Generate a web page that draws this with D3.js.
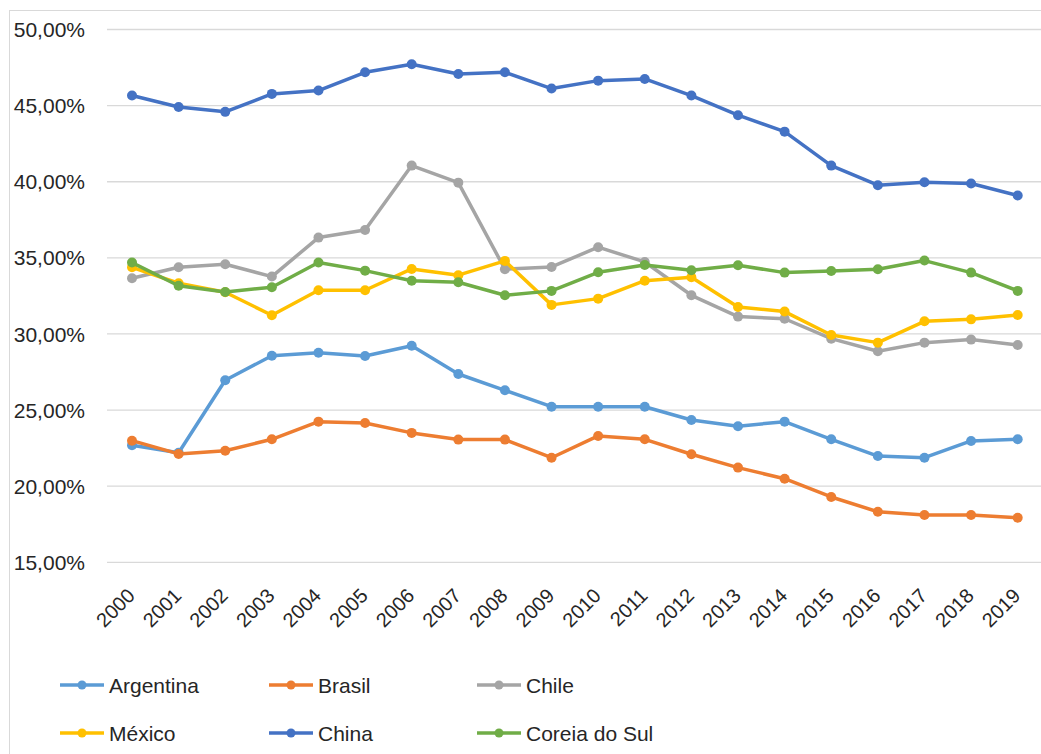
<!DOCTYPE html>
<html>
<head>
<meta charset="utf-8">
<script src="https://cdn.jsdelivr.net/npm/d3@7"></script>
<style>
  html, body { margin: 0; padding: 0; background: #fff; }
  svg { display: block; }
  text { font-family: "Liberation Sans", Arial, sans-serif; fill: #262626; }
</style>
</head>
<body>
<svg id="chart" width="1041" height="754"></svg>
<script>
const years = ["2000","2001","2002","2003","2004","2005","2006","2007","2008","2009",
               "2010","2011","2012","2013","2014","2015","2016","2017","2018","2019"];
const yTicks = [15, 20, 25, 30, 35, 40, 45, 50];

const argentina = [22.69, 22.20, 26.96, 28.57, 28.77, 28.55, 29.23, 27.37, 26.30, 25.22,
                   25.22, 25.22, 24.35, 23.94, 24.24, 23.08, 21.98, 21.87, 22.97, 23.08];
const brasil    = [22.99, 22.12, 22.33, 23.08, 24.24, 24.15, 23.50, 23.06, 23.06, 21.87,
                   23.30, 23.08, 22.10, 21.22, 20.49, 19.29, 18.32, 18.11, 18.11, 17.93];
const chile     = [33.66, 34.38, 34.58, 33.77, 36.33, 36.83, 41.06, 39.94, 34.25, 34.40,
                   35.70, 34.73, 32.54, 31.14, 31.00, 29.69, 28.86, 29.43, 29.63, 29.28];
const mexico    = [34.38, 33.33, 32.74, 31.23, 32.87, 32.87, 34.27, 33.86, 34.80, 31.91,
                   32.32, 33.50, 33.72, 31.77, 31.47, 29.93, 29.43, 30.83, 30.96, 31.25];
const china     = [45.66, 44.91, 44.59, 45.77, 45.99, 47.19, 47.72, 47.08, 47.19, 46.12,
                   46.64, 46.75, 45.66, 44.37, 43.29, 41.06, 39.77, 39.97, 39.88, 39.09];
const coreia    = [34.69, 33.17, 32.76, 33.07, 34.69, 34.16, 33.50, 33.40, 32.54, 32.83,
                   34.05, 34.53, 34.18, 34.51, 34.03, 34.14, 34.25, 34.82, 34.03, 32.83];

const seriesNames  = ["Argentina", "Brasil", "Chile", "México", "China", "Coreia do Sul"];
const seriesValues = [argentina, brasil, chile, mexico, china, coreia];
const seriesColors = ["#5B9BD5", "#ED7D31", "#A5A5A5", "#FFC000", "#4472C4", "#70AD47"];

const svg = d3.select("#chart");

// outer chart border
svg.append("rect")
  .attr("x", 9.5).attr("y", 10.5).attr("width", 1040).attr("height", 750)
  .attr("fill", "none").attr("stroke", "#d9d9d9").attr("stroke-width", 1);

const x = d3.scaleBand().domain(years).range([108.7, 1041]);
const y = d3.scaleLinear().domain([15, 50]).range([562.3, 29.5]);
const cx = d => x(d) + x.bandwidth() / 2;

// gridlines
svg.append("g").selectAll("line").data(yTicks).join("line")
  .attr("x1", 107).attr("x2", 1041)
  .attr("y1", d => y(d)).attr("y2", d => y(d))
  .attr("stroke", "#d9d9d9").attr("stroke-width", 1.3);

// y labels
const fmt = v => v.toFixed(2).replace(".", ",") + "%";
svg.append("g").selectAll("text").data(yTicks).join("text")
  .attr("x", 85).attr("y", d => y(d))
  .attr("dy", "0.36em")
  .attr("text-anchor", "end")
  .attr("font-size", 21)
  .text(fmt);

// x labels
svg.append("g").selectAll("text").data(years).join("text")
  .attr("text-anchor", "end")
  .attr("font-size", 20)
  .attr("transform", d => `translate(${cx(d) + 4},${597}) rotate(-45)`)
  .text(d => d);

// lines
const line = d3.line().x((d, i) => cx(years[i])).y(d => y(d));
seriesValues.forEach((vals, si) => {
  const g = svg.append("g");
  g.append("path").datum(vals)
    .attr("d", line)
    .attr("fill", "none")
    .attr("stroke", seriesColors[si])
    .attr("stroke-width", 3.5)
    .attr("stroke-linejoin", "round")
    .attr("stroke-linecap", "round");
  g.selectAll("circle").data(vals).join("circle")
    .attr("cx", (d, i) => cx(years[i]))
    .attr("cy", d => y(d))
    .attr("r", 5)
    .attr("fill", seriesColors[si]);
});

// legend
const legendX = [60, 269, 477];
const legendY = [685, 733];
const lg = svg.append("g");
seriesNames.forEach((name, i) => {
  const lx = legendX[i % 3], ly = legendY[Math.floor(i / 3)];
  const g = lg.append("g");
  g.append("line")
    .attr("x1", lx).attr("x2", lx + 44).attr("y1", ly).attr("y2", ly)
    .attr("stroke", seriesColors[i]).attr("stroke-width", 3.5);
  g.append("circle").attr("cx", lx + 22).attr("cy", ly).attr("r", 4.5)
    .attr("fill", seriesColors[i]);
  g.append("text")
    .attr("x", lx + 49).attr("y", ly)
    .attr("dy", "0.36em")
    .attr("font-size", 21)
    .text(name);
});
</script>
</body>
</html>
